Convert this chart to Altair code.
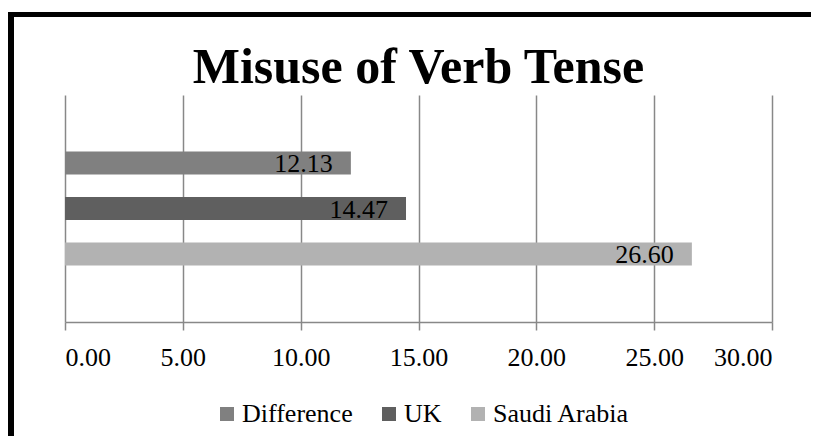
import altair as alt
import pandas as pd

series = ["Difference", "UK", "Saudi Arabia"]
values = [12.13, 14.47, 26.60]
colors = ["#808080", "#5f5f5f", "#b2b2b2"]
x_ticks = [0, 5, 10, 15, 20, 25, 30]
# blank slots above and below the cluster, like the category gap in the original
y_domain = [" ", "Difference", "UK", "Saudi Arabia", "  "]

df = pd.DataFrame({"series": series, "value": values})

FONT = "Liberation Serif"

y_enc = alt.Y(
    "series:N",
    scale=alt.Scale(domain=y_domain, paddingInner=0.495, paddingOuter=0.242),
    axis=None,
)

bars = alt.Chart(df).mark_bar().encode(
    x=alt.X(
        "value:Q",
        scale=alt.Scale(domain=[0, 30], nice=False),
        axis=alt.Axis(
            values=x_ticks,
            format=".2f",
            title=None,
            grid=True,
            gridColor="#888888",
            gridWidth=1.5,
            domainColor="#888888",
            domainWidth=1.5,
            tickColor="#888888",
            tickWidth=1.5,
            tickSize=8,
            labelFont=FONT,
            labelFontSize=26,
            labelColor="#000000",
            labelPadding=14,
        ),
    ),
    y=y_enc,
    color=alt.Color(
        "series:N",
        scale=alt.Scale(domain=series, range=colors),
        legend=alt.Legend(
            title=None,
            orient="none",
            direction="horizontal",
            legendX=149,
            legendY=306,
            symbolType="square",
            symbolSize=196,
            symbolStrokeWidth=0,
            labelFont=FONT,
            labelFontSize=26,
            labelColor="#000000",
            labelOffset=2,
            columnPadding=23,
        ),
    ),
)

labels = alt.Chart(df).mark_text(
    align="right", baseline="alphabetic", dx=-18, dy=9, font=FONT, fontSize=26, color="#000000"
).encode(
    x=alt.X("value:Q"),
    y=y_enc,
    text=alt.Text("value:Q", format=".2f"),
)

border_data = alt.Data(values=[{"a": 1}])
top_border = alt.Chart(border_data).mark_rule(color="#000000", strokeWidth=5).encode(
    x=alt.value(-57), x2=alt.value(900), y=alt.value(-80.5)
)
left_border = alt.Chart(border_data).mark_rule(color="#000000", strokeWidth=6).encode(
    x=alt.value(-54), y=alt.value(-83), y2=alt.value(500)
)

chart = (
    alt.layer(bars, labels, top_border, left_border)
    .properties(
        width=707,
        height=227,
        background="#ffffff",
        title=alt.TitleParams(
            "Misuse of Verb Tense",
            font=FONT,
            fontSize=50,
            fontWeight="bold",
            color="#000000",
            anchor="middle",
            baseline="alphabetic",
            offset=-124,
        ),
        autosize=alt.AutoSizeParams(type="none"),
        padding={"left": 57, "top": 87, "right": 39, "bottom": 114},
    )
    .configure_view(strokeWidth=0, stroke="transparent")
)

chart.save("out.html", embed_options={"renderer": "svg", "actions": False})
